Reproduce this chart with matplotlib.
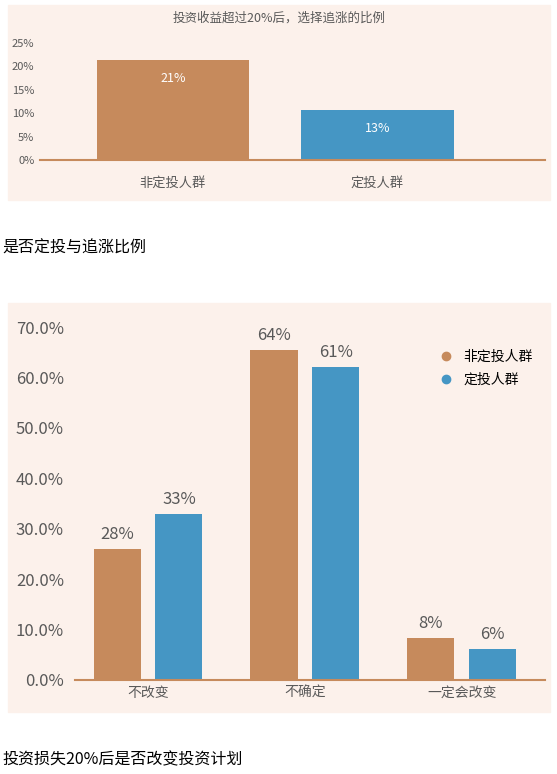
import matplotlib
matplotlib.use('Agg')
import matplotlib.pyplot as plt
from matplotlib.patches import Rectangle
from matplotlib.lines import Line2D

plt.rcParams['font.family'] = ['Noto Sans CJK SC', 'DejaVu Sans']

BROWN = '#c68a5c'
BLUE = '#4596c4'
BG = '#fcf1eb'
GRAY = '#595959'

# top chart
top_cats = ['非定投人群', '定投人群']
top_vals = [21.3, 10.7]
top_labels = ['21%', '13%']

# bottom chart
bot_cats = ['不改变', '不确定', '一定会改变']
series_names = ['非定投人群', '定投人群']
non_dt = [26.0, 65.5, 8.3]
dt = [32.9, 62.1, 6.2]
non_dt_labels = ['28%', '64%', '8%']
dt_labels = ['33%', '61%', '6%']

W, H = 557, 774
fig = plt.figure(figsize=(W / 100, H / 100), dpi=100)


def px_axes(l, t, r, b):
    ax = fig.add_axes([l / W, 1 - b / H, (r - l) / W, (b - t) / H])
    ax.set_zorder(2)
    ax.patch.set_alpha(0)
    return ax


# background panels
fig.patches.append(Rectangle((8 / W, 1 - 200 / H), 542 / W, 195 / H,
                             transform=fig.transFigure, color=BG, zorder=-5))
fig.patches.append(Rectangle((8 / W, 1 - 712 / H), 542 / W, 409 / H,
                             transform=fig.transFigure, color=BG, zorder=-5))

# ---- top chart
ax1 = px_axes(40, 43, 545, 160)
x = range(len(top_cats))
bars = ax1.bar(x, top_vals, width=0.745, color=[BROWN, BLUE])
for b, lab in zip(bars, top_labels):
    ax1.text(b.get_x() + b.get_width() / 2, b.get_height() - 2.5, lab,
             ha='center', va='top', color='white', fontsize=9)
ax1.set_ylim(0, 25)
ax1.set_xlim(-0.65, 1.82)
ax1.set_yticks([0, 5, 10, 15, 20, 25])
ax1.set_yticklabels(['0%', '5%', '10%', '15%', '20%', '25%'])
ax1.set_xticks(list(x))
ax1.set_xticklabels(top_cats, fontsize=9.5, color=GRAY)
ax1.tick_params(axis='y', labelsize=8, colors=GRAY, length=0, pad=4)
ax1.tick_params(axis='x', length=0, pad=12)
for s in ['top', 'right', 'left']:
    ax1.spines[s].set_visible(False)
ax1.spines['bottom'].set_color(BROWN)
ax1.spines['bottom'].set_linewidth(1.5)
fig.text(279 / W, 1 - 18 / H, '投资收益超过20%后，选择追涨的比例', ha='center', va='center',
         fontsize=9, color=GRAY)

fig.text(2 / W, 1 - 248 / H, '是否定投与追涨比例', ha='left', va='center', fontsize=11.5)

# ---- bottom chart
ax2 = px_axes(75, 327, 545, 680)
xs = list(range(len(bot_cats)))
off = 0.197
b1 = ax2.bar([i - off for i in xs], non_dt, width=0.3, color=BROWN)
b2 = ax2.bar([i + off for i in xs], dt, width=0.3, color=BLUE)
for bs, labs in ((b1, non_dt_labels), (b2, dt_labels)):
    for b, lab in zip(bs, labs):
        ax2.text(b.get_x() + b.get_width() / 2, b.get_height() + 1.2, lab,
                 ha='center', va='bottom', color=GRAY, fontsize=12)
ax2.set_ylim(0, 70)
ax2.set_xlim(-0.465, 2.53)
ax2.set_yticks(range(0, 71, 10))
ax2.set_yticklabels([f'{v:.1f}%' for v in range(0, 71, 10)])
ax2.set_xticks(xs)
ax2.set_xticklabels(bot_cats, fontsize=10, color=GRAY)
ax2.tick_params(axis='y', labelsize=12, colors=GRAY, length=0, pad=8)
ax2.tick_params(axis='x', length=0, pad=4)
for s in ['top', 'right', 'left']:
    ax2.spines[s].set_visible(False)
ax2.spines['bottom'].set_color(BROWN)
ax2.spines['bottom'].set_linewidth(1.5)
handles = [Line2D([], [], marker='o', ls='', color=c, markersize=6) for c in (BROWN, BLUE)]
ax2.legend(handles, series_names, loc='upper right', frameon=False, fontsize=10,
           handletextpad=0.2, labelspacing=0.6, bbox_to_anchor=(1.0, 0.97))

fig.text(2 / W, 1 - 760 / H, '投资损失20%后是否改变投资计划', ha='left', va='center', fontsize=11.5)

fig.savefig('out.png', dpi=100)
